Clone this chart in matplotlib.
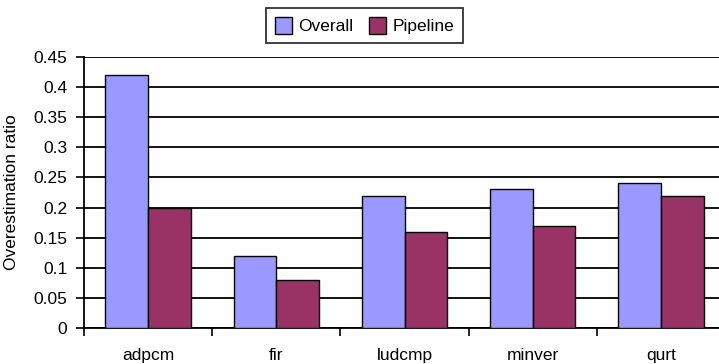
import matplotlib.pyplot as plt
from matplotlib.ticker import FixedLocator, NullFormatter

plt.rcParams["font.family"] = ["Liberation Sans", "DejaVu Sans"]

# data
benchmarks = ["adpcm", "fir", "ludcmp", "minver", "qurt"]
overall = [0.42, 0.12, 0.22, 0.23, 0.24]
pipeline = [0.20, 0.08, 0.16, 0.17, 0.22]
y_ticks = [0, 0.05, 0.1, 0.15, 0.2, 0.25, 0.3, 0.35, 0.4, 0.45]
y_labels = ["0", "0.05", "0.1", "0.15", "0.2", "0.25", "0.3", "0.35", "0.4", "0.45"]

fig = plt.figure(figsize=(7.19, 3.64), dpi=100)
# the original is cropped on the right, so the axes runs past the figure edge
ax = fig.add_axes([84 / 719, 35.7 / 364, 641 / 719, 271.6 / 364])

w = 1 / 3
x = [i + 0.5 for i in range(len(benchmarks))]
b1 = ax.bar([v - w / 2 for v in x], overall, width=w, color="#9999FF",
            edgecolor="black", linewidth=1, label="Overall", zorder=3)
b2 = ax.bar([v + w / 2 for v in x], pipeline, width=w, color="#993366",
            edgecolor="black", linewidth=1, label="Pipeline", zorder=3)

ax.set_xlim(0, 5)
ax.set_ylim(0, 0.45)
ax.set_yticks(y_ticks)
ax.set_yticklabels(y_labels, fontsize=12.5)
ax.yaxis.grid(True, color="black", linewidth=1.3, zorder=0)
ax.set_axisbelow(True)

ax.set_xticks(x)
ax.set_xticklabels(benchmarks, fontsize=12.5)
ax.tick_params(axis="x", which="major", length=0, pad=14)
ax.xaxis.set_minor_locator(FixedLocator(range(0, 6)))
ax.xaxis.set_minor_formatter(NullFormatter())
ax.tick_params(axis="x", which="minor", length=6, width=1.2, color="black")
ax.tick_params(axis="y", length=6, width=1.2, color="black", pad=6)

for side in ["top", "right"]:
    ax.spines[side].set_visible(False)
ax.spines["left"].set_linewidth(1.3)
ax.spines["bottom"].set_linewidth(1.3)

ax.set_ylabel("Overestimation ratio", fontsize=12.5, labelpad=10)

leg = fig.legend(handles=[b1, b2], loc="center", bbox_to_anchor=(0.507, 0.93),
                 ncol=2, fontsize=12.5, frameon=True, fancybox=False,
                 edgecolor="black", handlelength=1.0, handleheight=1.1,
                 handletextpad=0.35, columnspacing=0.9, borderpad=0.5,
                 borderaxespad=0.3)
leg.get_frame().set_linewidth(1.3)

fig.savefig("out.png", dpi=100)
